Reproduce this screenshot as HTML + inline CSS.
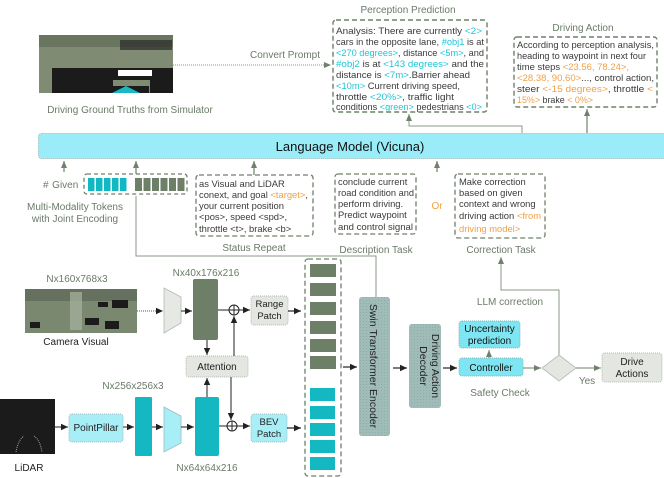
<!DOCTYPE html>
<html><head><meta charset="utf-8"><style>
html,body{margin:0;padding:0;background:#fff;}
svg{display:block;font-family:"Liberation Sans",sans-serif;}
.lbl{fill:#6a7a68;font-size:10px;}
.bt{fill:#3a3a3a;font-size:9.4px;}
.c{fill:#1fc6d6;}
.o{fill:#f0a048;}
</style></head><body>
<svg width="664" height="478" viewBox="0 0 664 478" xmlns="http://www.w3.org/2000/svg">
<defs>
<marker id="ad" markerWidth="8" markerHeight="8" refX="7" refY="4" orient="auto" markerUnits="userSpaceOnUse"><path d="M0,0.8 L7,4 L0,7.2 z" fill="#222"/></marker>
<marker id="ag" markerWidth="8" markerHeight="8" refX="7" refY="4" orient="auto" markerUnits="userSpaceOnUse"><path d="M0,1 L7,4 L0,7 z" fill="#6f806c"/></marker>
<pattern id="dots" width="3" height="3" patternUnits="userSpaceOnUse"><rect width="3" height="3" fill="#a4d6de"/><rect width="1" height="1" fill="#8fb0b4"/></pattern>
</defs>

<!-- Simulator image -->
<rect x="39" y="35" width="134" height="58" fill="#7f8c73"/>
<rect x="39" y="35" width="134" height="12" fill="#6a7560"/>
<rect x="120" y="40" width="52" height="10" fill="#2a2a2a" opacity="0.7"/>
<rect x="52" y="68" width="61" height="25" fill="#1b1b1b"/>
<rect x="113" y="68" width="60" height="12" fill="#1b1b1b"/>
<rect x="118" y="70" width="34" height="6" fill="#fff"/>
<rect x="150" y="78" width="23" height="15" fill="#1b1b1b"/>
<rect x="113" y="86" width="36" height="7" fill="#1b1b1b"/>
<path d="M112,93 L126,86 L140,93 z" fill="#18b8c4"/>
<text class="lbl" x="130" y="113" text-anchor="middle">Driving Ground Truths from Simulator</text>

<text class="lbl" x="285" y="58" text-anchor="middle">Convert Prompt</text>
<line x1="173" y1="65" x2="331" y2="65" stroke="#8a9888" stroke-width="1" stroke-dasharray="1,1" marker-end="url(#ag)"/>

<!-- Perception Prediction -->
<text class="lbl" x="408" y="13" text-anchor="middle" font-size="10.5">Perception Prediction</text>
<rect x="333" y="20" width="154" height="92" rx="3" fill="none" stroke="#6f806c" stroke-width="1.4" stroke-dasharray="5,3"/>
<g class="bt" font-size="9.2">
<text x="336" y="34" textLength="146" lengthAdjust="spacingAndGlyphs">Analysis: There are currently <tspan class="c">&lt;2&gt;</tspan></text>
<text x="336" y="45" textLength="148" lengthAdjust="spacingAndGlyphs">cars in the opposite lane, <tspan class="c">#obj1</tspan> is at</text>
<text x="336" y="56" textLength="148" lengthAdjust="spacingAndGlyphs"><tspan class="c">&lt;270 degrees&gt;</tspan>, distance <tspan class="c">&lt;5m&gt;</tspan>, and</text>
<text x="336" y="67" textLength="148" lengthAdjust="spacingAndGlyphs"><tspan class="c">#obj2</tspan> is at <tspan class="c">&lt;143 degrees&gt;</tspan> and the</text>
<text x="336" y="78" textLength="134" lengthAdjust="spacingAndGlyphs">distance is <tspan class="c">&lt;7m&gt;</tspan>.Barrier ahead</text>
<text x="336" y="89" textLength="124" lengthAdjust="spacingAndGlyphs"><tspan class="c">&lt;10m&gt;</tspan> Current driving speed,</text>
<text x="336" y="100" textLength="118" lengthAdjust="spacingAndGlyphs">throttle <tspan class="c">&lt;20%&gt;</tspan>, traffic light</text>
<text x="336" y="110" textLength="146" lengthAdjust="spacingAndGlyphs">conditions <tspan class="c">&lt;green&gt;</tspan> pedestrians <tspan class="c">&lt;0&gt;</tspan></text>
</g>

<!-- Driving Action -->
<text class="lbl" x="583" y="31" text-anchor="middle" font-size="10.5">Driving Action</text>
<rect x="514" y="37" width="143" height="70" rx="3" fill="none" stroke="#6f806c" stroke-width="1.4" stroke-dasharray="5,3"/>
<g class="bt" font-size="9.2">
<text x="517" y="48" textLength="137" lengthAdjust="spacingAndGlyphs">According to perception analysis,</text>
<text x="517" y="59" textLength="129" lengthAdjust="spacingAndGlyphs">heading to waypoint in next four</text>
<text x="517" y="70" textLength="112" lengthAdjust="spacingAndGlyphs">time steps <tspan class="o">&lt;23.56, 78.24&gt;,</tspan></text>
<text x="517" y="81" textLength="137" lengthAdjust="spacingAndGlyphs"><tspan class="o">&lt;28.38, 90.60&gt;</tspan>..., control action,</text>
<text x="517" y="92" textLength="136" lengthAdjust="spacingAndGlyphs">steer <tspan class="o">&lt;-15 degrees&gt;</tspan>,  throttle <tspan class="o">&lt;</tspan></text>
<text x="517" y="103" textLength="76" lengthAdjust="spacingAndGlyphs"><tspan class="o">15%&gt;</tspan> brake <tspan class="o">&lt; 0%&gt;</tspan></text>
</g>

<!-- LM to outputs -->
<polyline points="522,133 522,126 409,126 409,114" fill="none" stroke="#8a9888" stroke-width="1" marker-end="url(#ag)"/>
<line x1="587" y1="133" x2="587" y2="109" stroke="#6f806c" stroke-width="1.2" marker-end="url(#ag)"/>

<!-- Language model -->
<rect x="38.5" y="133.5" width="632" height="25" rx="3" fill="#9aedf8" stroke="#a8b0a8" stroke-width="1" stroke-dasharray="1,1"/>
<text x="350" y="151" text-anchor="middle" font-size="13" fill="#111">Language Model (Vicuna)</text>

<!-- Up arrows -->
<g stroke="#6f806c" stroke-width="1.2">
<line x1="64" y1="172" x2="64" y2="161" marker-end="url(#ag)"/>
<line x1="136" y1="174" x2="136" y2="161" marker-end="url(#ag)"/>
<line x1="254" y1="175" x2="254" y2="161" marker-end="url(#ag)"/>
<line x1="437" y1="172" x2="437" y2="161" marker-end="url(#ag)"/>
</g>

<!-- Tokens -->
<text class="lbl" x="43" y="188" fill="#555" font-size="10">#&#8202; Given</text>
<rect x="84" y="174" width="103" height="20" rx="3" fill="none" stroke="#6f806c" stroke-width="1.3" stroke-dasharray="4,3"/>
<g fill="#14b8c2">
<rect x="88" y="178" width="6.5" height="13"/><rect x="96" y="178" width="6.5" height="13"/><rect x="104" y="178" width="6.5" height="13"/><rect x="112" y="178" width="6.5" height="13"/><rect x="120" y="178" width="6.5" height="13"/>
</g>
<g fill="#6e7f68">
<rect x="135" y="178" width="7" height="13"/><rect x="143.5" y="178" width="7" height="13"/><rect x="152" y="178" width="7" height="13"/><rect x="160.5" y="178" width="7" height="13"/><rect x="169" y="178" width="7" height="13"/><rect x="177.5" y="178" width="7" height="13"/>
</g>
<text class="lbl" x="75" y="210" text-anchor="middle">Multi-Modality Tokens</text>
<text class="lbl" x="75" y="222" text-anchor="middle">with Joint Encoding</text>

<!-- Status -->
<rect x="196" y="175" width="117" height="61" rx="3" fill="none" stroke="#6f806c" stroke-width="1.3" stroke-dasharray="5,3"/>
<g class="bt" font-size="9.2">
<text x="199" y="187">as Visual and LiDAR</text>
<text x="199" y="198">conext, and goal <tspan class="o">&lt;target&gt;</tspan>,</text>
<text x="199" y="209">your current position</text>
<text x="199" y="220">&lt;pos&gt;, speed &lt;spd&gt;,</text>
<text x="199" y="232">throttle &lt;t&gt;, brake &lt;b&gt;</text>
</g>
<text class="lbl" x="254" y="251" text-anchor="middle">Status Repeat</text>

<!-- Description -->
<rect x="335" y="174" width="81" height="60" rx="3" fill="none" stroke="#6f806c" stroke-width="1.3" stroke-dasharray="5,3"/>
<g class="bt" font-size="9.2">
<text x="338" y="185">conclude current</text>
<text x="338" y="196" textLength="76" lengthAdjust="spacingAndGlyphs">road condition and</text>
<text x="338" y="207">perform driving.</text>
<text x="338" y="218">Predict waypoint</text>
<text x="338" y="230" textLength="75" lengthAdjust="spacingAndGlyphs">and control signal</text>
</g>
<text class="lbl" x="376" y="253" text-anchor="middle">Description Task</text>
<text x="437" y="209" text-anchor="middle" font-size="10" class="o">Or</text>

<!-- Correction -->
<rect x="455" y="174" width="90" height="64" rx="3" fill="none" stroke="#6f806c" stroke-width="1.3" stroke-dasharray="5,3"/>
<g class="bt" font-size="9.2">
<text x="459" y="185">Make correction</text>
<text x="459" y="196">based on given</text>
<text x="459" y="207">context and wrong</text>
<text x="459" y="219">driving action <tspan class="o">&lt;from</tspan></text>
<text x="459" y="232" class="o">driving model&gt;</text>
</g>
<text class="lbl" x="501" y="253" text-anchor="middle">Correction Task</text>

<!-- token line from swin -->
<polyline points="376,297 376,256 136,256 136,196" fill="none" stroke="#8a9888" stroke-width="1"/>
<!-- LLM correction loop -->
<polyline points="559,355 559,290 501,290 501,257" fill="none" stroke="#8a9888" stroke-width="1" marker-end="url(#ag)"/>
<text class="lbl" x="510" y="305" text-anchor="middle">LLM correction</text>

<!-- Camera -->
<text class="lbl" x="77" y="282" text-anchor="middle">Nx160x768x3</text>
<rect x="25" y="289" width="112" height="44" fill="#7a8870"/>
<rect x="25" y="289" width="112" height="12" fill="#66705e"/>
<rect x="70" y="292" width="12" height="38" fill="#a8b4a0" opacity="0.7"/>
<rect x="98" y="302" width="10" height="5" fill="#1b1b1b"/><rect x="112" y="300" width="16" height="8" fill="#1b1b1b"/>
<rect x="85" y="318" width="14" height="7" fill="#1b1b1b"/><rect x="105" y="321" width="14" height="8" fill="#1b1b1b"/><rect x="30" y="322" width="10" height="6" fill="#1b1b1b"/>
<text x="76" y="345" text-anchor="middle" font-size="10" fill="#222">Camera Visual</text>
<line x1="137" y1="311" x2="163" y2="311" stroke="#555" stroke-width="1" stroke-dasharray="1,1" marker-end="url(#ad)"/>
<path d="M164,288 L181,297 L181,323 L164,333 z" fill="#e6e8e4" stroke="#b5bab2" stroke-width="0.8"/>
<line x1="181" y1="311" x2="192" y2="311" stroke="#222" stroke-width="1" marker-end="url(#ad)"/>
<text class="lbl" x="206" y="276" text-anchor="middle">Nx40x176x216</text>
<rect x="193" y="279" width="25" height="61" rx="2" fill="#6e7f68"/>
<line x1="218" y1="310" x2="229" y2="310" stroke="#222" stroke-width="1"/>
<circle cx="234" cy="310" r="5" fill="#fff" stroke="#222" stroke-width="1"/>
<line x1="229" y1="310" x2="239" y2="310" stroke="#222" stroke-width="1"/><line x1="234" y1="305" x2="234" y2="315" stroke="#222" stroke-width="1"/>
<line x1="239" y1="310" x2="250" y2="310" stroke="#222" stroke-width="1" marker-end="url(#ad)"/>
<rect x="251" y="296" width="37" height="29" rx="3" fill="#e3e6e1" stroke="#b5bab2" stroke-dasharray="1,1"/>
<text x="269.5" y="307" text-anchor="middle" font-size="9.5" fill="#222">Range</text>
<text x="269.5" y="319" text-anchor="middle" font-size="9.5" fill="#222">Patch</text>
<line x1="288" y1="311" x2="301" y2="311" stroke="#222" stroke-width="1.2" marker-end="url(#ad)"/>

<!-- Attention -->
<line x1="207" y1="340" x2="207" y2="355" stroke="#222" stroke-width="1" marker-end="url(#ad)"/>
<rect x="186" y="356" width="62" height="21" rx="3" fill="#e3e6e1" stroke="#b5bab2" stroke-dasharray="1,1"/>
<text x="217" y="370" text-anchor="middle" font-size="10" fill="#222">Attention</text>
<line x1="234" y1="356" x2="234" y2="316" stroke="#222" stroke-width="1" marker-end="url(#ad)"/>
<line x1="231" y1="377" x2="231" y2="420" stroke="#222" stroke-width="1" marker-end="url(#ad)"/>
<line x1="207" y1="397" x2="207" y2="378" stroke="#222" stroke-width="1" marker-end="url(#ad)"/>

<!-- LiDAR -->
<rect x="0" y="399" width="55" height="55" fill="#1b1b1b"/>
<path d="M16,452 Q18,440 24,436 M34,436 Q40,440 42,452" fill="none" stroke="#9aa88e" stroke-width="1" stroke-dasharray="1,1"/>
<text x="29" y="471" text-anchor="middle" font-size="10" fill="#222">LiDAR</text>
<line x1="55" y1="427" x2="68" y2="427" stroke="#222" stroke-width="1" marker-end="url(#ad)"/>
<rect x="69" y="414" width="54" height="28" rx="3" fill="#a8eef7" stroke="#9bbcc0" stroke-dasharray="1,1"/>
<text x="96" y="431" text-anchor="middle" font-size="10" fill="#222">PointPillar</text>
<line x1="123" y1="427" x2="134" y2="427" stroke="#222" stroke-width="1" marker-end="url(#ad)"/>
<text class="lbl" x="133" y="389" text-anchor="middle">Nx256x256x3</text>
<rect x="135" y="397" width="17" height="59" rx="1" fill="#14b8c2"/>
<line x1="152" y1="427" x2="163" y2="427" stroke="#222" stroke-width="1" marker-end="url(#ad)"/>
<path d="M164,407 L181,416 L181,443 L164,452 z" fill="#a8eef7" stroke="#9bbcc0" stroke-width="0.8"/>
<line x1="181" y1="427" x2="194" y2="427" stroke="#222" stroke-width="1" marker-end="url(#ad)"/>
<rect x="195" y="397" width="24" height="59" rx="2" fill="#14b8c2"/>
<text class="lbl" x="207" y="471" text-anchor="middle">Nx64x64x216</text>
<line x1="219" y1="426" x2="227" y2="426" stroke="#222" stroke-width="1"/>
<circle cx="232" cy="426" r="5" fill="#fff" stroke="#222" stroke-width="1"/>
<line x1="227" y1="426" x2="237" y2="426" stroke="#222" stroke-width="1"/><line x1="232" y1="421" x2="232" y2="431" stroke="#222" stroke-width="1"/>
<line x1="237" y1="426" x2="250" y2="426" stroke="#222" stroke-width="1" marker-end="url(#ad)"/>
<rect x="251" y="414" width="36" height="28" rx="3" fill="#a8eef7" stroke="#9bbcc0" stroke-dasharray="1,1"/>
<text x="269" y="425" text-anchor="middle" font-size="9.5" fill="#222">BEV</text>
<text x="269" y="437" text-anchor="middle" font-size="9.5" fill="#222">Patch</text>
<line x1="287" y1="428" x2="301" y2="428" stroke="#222" stroke-width="1.2" marker-end="url(#ad)"/>

<!-- Token column -->
<rect x="305" y="259" width="36" height="217" rx="3" fill="none" stroke="#6f806c" stroke-width="1.3" stroke-dasharray="5,3"/>
<g fill="#6e7f68">
<rect x="310" y="264" width="26" height="13"/><rect x="310" y="283" width="26" height="13"/><rect x="310" y="302" width="26" height="13"/><rect x="310" y="321" width="26" height="13"/><rect x="310" y="339" width="26" height="13"/><rect x="310" y="356" width="26" height="13"/>
</g>
<g fill="#14b8c2">
<rect x="310" y="388" width="25" height="13"/><rect x="310" y="406" width="25" height="13"/><rect x="310" y="423" width="25" height="13"/><rect x="310" y="440" width="25" height="13"/><rect x="310" y="457" width="25" height="13"/>
</g>

<!-- Swin -->
<line x1="343" y1="367" x2="357" y2="367" stroke="#222" stroke-width="1.2" marker-end="url(#ad)"/>
<rect x="359" y="297" width="31" height="139" rx="3" fill="url(#dots)"/>
<rect x="359" y="297" width="31" height="139" rx="3" fill="#9aa89a" opacity="0.55"/>
<text transform="translate(370,366) rotate(90)" text-anchor="middle" font-size="10.5" fill="#222">Swin Transformer Encoder</text>
<line x1="393" y1="368" x2="407" y2="368" stroke="#222" stroke-width="1.2" marker-end="url(#ad)"/>
<rect x="409" y="324" width="32" height="84" rx="3" fill="url(#dots)"/>
<rect x="409" y="324" width="32" height="84" rx="3" fill="#9aa89a" opacity="0.55"/>
<text transform="translate(432,366) rotate(90)" text-anchor="middle" font-size="10.5" fill="#222">Driving Action</text>
<text transform="translate(420,366) rotate(90)" text-anchor="middle" font-size="10.5" fill="#222">Decoder</text>
<line x1="443" y1="368" x2="457" y2="368" stroke="#222" stroke-width="1.2" marker-end="url(#ad)"/>

<!-- Controller etc -->
<rect x="459" y="321" width="61" height="27" rx="3" fill="#7ee6f2" stroke="#7fb7bd" stroke-dasharray="1,1"/>
<text x="489.5" y="332" text-anchor="middle" font-size="10" fill="#111">Uncertainty</text>
<text x="489.5" y="344" text-anchor="middle" font-size="10" fill="#111">prediction</text>
<line x1="489" y1="358" x2="489" y2="350" stroke="#6f806c" stroke-width="1" marker-end="url(#ag)"/>
<rect x="459" y="358" width="64" height="18" rx="3" fill="#7ee6f2" stroke="#7fb7bd" stroke-dasharray="1,1"/>
<text x="491" y="371" text-anchor="middle" font-size="10" fill="#111">Controller</text>
<text class="lbl" x="500" y="396" text-anchor="middle">Safety Check</text>
<line x1="523" y1="368" x2="541" y2="368" stroke="#6f806c" stroke-width="1" marker-end="url(#ag)"/>
<path d="M559,355 L576,368 L559,381 L542,368 z" fill="#e3e6e1" stroke="#b5bab2" stroke-width="0.8"/>
<line x1="576" y1="368" x2="601" y2="368" stroke="#6f806c" stroke-width="1" marker-end="url(#ag)"/>
<text class="lbl" x="587" y="384" text-anchor="middle">Yes</text>
<rect x="602" y="353" width="60" height="29" rx="3" fill="#e3e6e1" stroke="#b5bab2" stroke-dasharray="1,1"/>
<text x="632" y="365" text-anchor="middle" font-size="10" fill="#222">Drive</text>
<text x="632" y="377" text-anchor="middle" font-size="10" fill="#222">Actions</text>
</svg>
</body></html>
